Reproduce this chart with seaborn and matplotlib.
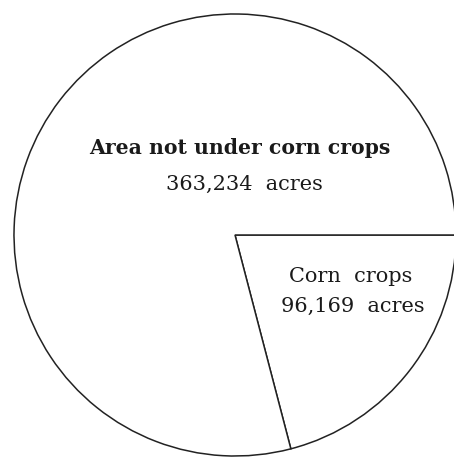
"""
Pie chart: area under corn crops vs. the rest.
"""

import matplotlib
matplotlib.use("Agg")
import matplotlib.pyplot as plt
import seaborn as sns

labels = ["Corn  crops", "Area not under corn crops"]
acres = [96169, 363234]
acre_labels = ["96,169  acres", "363,234  acres"]

sns.set_theme(style="white")
plt.rcParams['font.family'] = ['DejaVu Serif']

fig = plt.figure(figsize=(4.54, 4.57), dpi=100)
ax = fig.add_axes([0, 0, 1, 1])

# corn slice starts at 3 o'clock and runs clockwise
ax.pie(acres, startangle=0, counterclock=False, center=(235, 222), radius=221,
       colors=['white', 'white'],
       wedgeprops=dict(edgecolor='#222222', linewidth=1.1), frame=True)
ax.set_xlim(0, 454)
ax.set_ylim(0, 457)
ax.axis('off')

ax.text(240, 309, labels[1], ha='center', va='center', fontsize=14.7,
        fontweight='bold', color='#1a1a1a')
ax.text(244, 273, acre_labels[1], ha='center', va='center', fontsize=15,
        color='#1a1a1a')
ax.text(351, 180, labels[0], ha='center', va='center', fontsize=15,
        color='#1a1a1a')
ax.text(353, 151, acre_labels[0], ha='center', va='center', fontsize=15,
        color='#1a1a1a')

plt.savefig('out.png', dpi=100)
plt.close()
